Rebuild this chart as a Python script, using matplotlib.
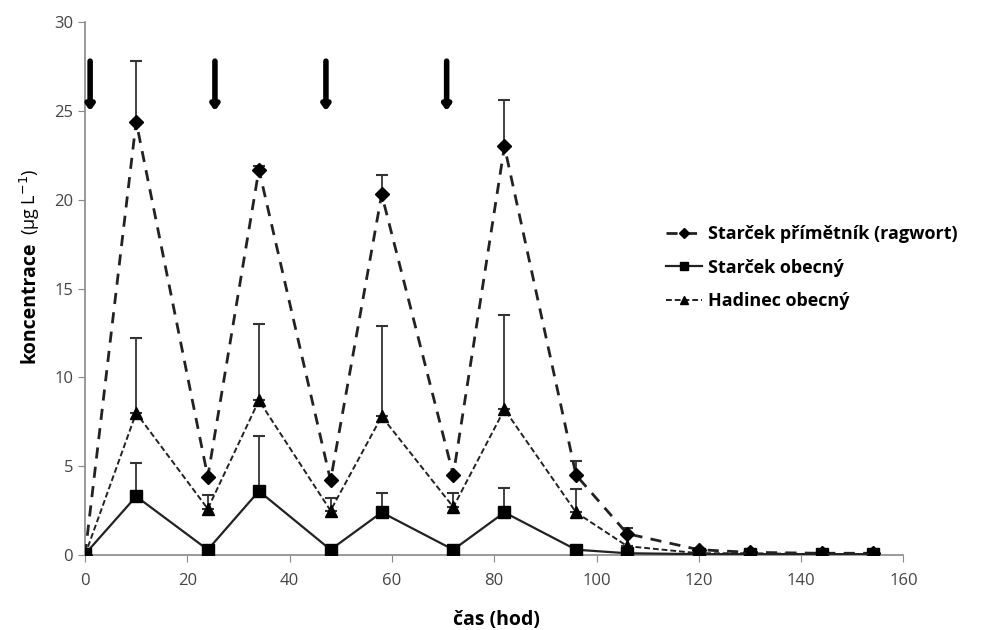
import matplotlib
matplotlib.use("Agg")
import matplotlib.pyplot as plt
import numpy as np

plt.rcParams['font.family'] = ['Open Sans', 'DejaVu Sans']

time_h = [0, 10, 24, 34, 48, 58, 72, 82, 96, 106, 120, 130, 144, 154]

ragwort = [0, 24.4, 4.4, 21.7, 4.2, 20.3, 4.5, 23.0, 4.5, 1.2, 0.3, 0.15, 0.1, 0.1]
ragwort_top = [0, 27.8, 4.4, 21.9, 4.2, 21.4, 4.5, 25.6, 5.3, 1.5, 0.3, 0.15, 0.1, 0.1]

obecny = [0.05, 3.3, 0.3, 3.6, 0.3, 2.4, 0.3, 2.4, 0.3, 0.1, 0.05, 0.05, 0.05, 0.05]
obecny_top = [0.05, 5.2, 0.3, 6.7, 0.3, 3.5, 0.3, 3.8, 0.3, 0.1, 0.05, 0.05, 0.05, 0.05]

hadinec = [0, 8.0, 2.6, 8.7, 2.5, 7.8, 2.7, 8.2, 2.4, 0.5, 0.1, 0.1, 0.05, 0.05]
hadinec_top = [0, 12.2, 3.4, 13.0, 3.2, 12.9, 3.5, 13.5, 3.7, 0.5, 0.1, 0.1, 0.05, 0.05]

dose_times = [1, 25.4, 47.1, 70.7]
arrow_top = 27.8
arrow_bottom = 25.0

labels = ["Starček přímětník (ragwort)", "Starček obecný", "Hadinec obecný"]

fig = plt.figure(figsize=(9.92, 6.30), dpi=100)
ax = fig.add_axes([0.0857, 0.119, 0.825, 0.846])

def err(vals, tops):
    v = np.array(vals); t = np.array(tops)
    return [np.zeros_like(v), np.clip(t - v, 0, None)]

for vals, tops in [(ragwort, ragwort_top), (obecny, obecny_top), (hadinec, hadinec_top)]:
    ax.errorbar(time_h, vals, yerr=err(vals, tops), fmt='none',
                ecolor='#333333', elinewidth=1.3, capsize=4, capthick=1.5, zorder=2)

l1, = ax.plot(time_h, ragwort, color='#222222', linestyle=(0, (4, 3)), linewidth=2.0,
              marker='D', markersize=7, markerfacecolor='black', markeredgecolor='black', zorder=3)
l2, = ax.plot(time_h, obecny, color='#222222', linestyle='-', linewidth=1.6,
              marker='s', markersize=8, markerfacecolor='black', markeredgecolor='black', zorder=3)
l3, = ax.plot(time_h, hadinec, color='#222222', linestyle=(0, (3, 1.5)), linewidth=1.4,
              marker='^', markersize=8, markerfacecolor='black', markeredgecolor='black', zorder=3)

for t in dose_times:
    ax.annotate('', xy=(t, arrow_bottom), xytext=(t, arrow_top),
                arrowprops=dict(arrowstyle='-|>,head_width=0.22,head_length=0.3',
                                color='black', lw=4, shrinkA=0, shrinkB=0))

ax.set_xlim(0, 160)
ax.set_ylim(0, 30)
ax.set_xticks(range(0, 161, 20))
ax.set_yticks(range(0, 31, 5))
for s in ['top', 'right']:
    ax.spines[s].set_visible(False)
for s in ['left', 'bottom']:
    ax.spines[s].set_color('#888888')
    ax.spines[s].set_linewidth(1.2)
ax.tick_params(axis='both', colors='#888888', labelcolor='#444444', labelsize=12,
               direction='out', length=5)
ax.tick_params(axis='x', pad=8)

fig.legend([l1, l2, l3], labels, loc='upper left', bbox_to_anchor=(0.655, 0.668),
           frameon=False, prop={'weight': 'bold', 'size': 13}, handlelength=2.0,
           handletextpad=0.3, labelspacing=0.85, markerscale=0.75)

fig.text(0.5, 0.0, 'čas (hod)', ha='center', va='bottom', fontsize=14, fontweight='bold')
fig.text(0.03, 0.52, 'koncentrace', rotation=90, ha='center', va='center',
         fontsize=14, fontweight='bold')
fig.text(0.03, 0.68, '(µg L$^{-1}$)', rotation=90, ha='center', va='center',
         fontsize=13)

fig.savefig('out.png', dpi=100, facecolor='white')
